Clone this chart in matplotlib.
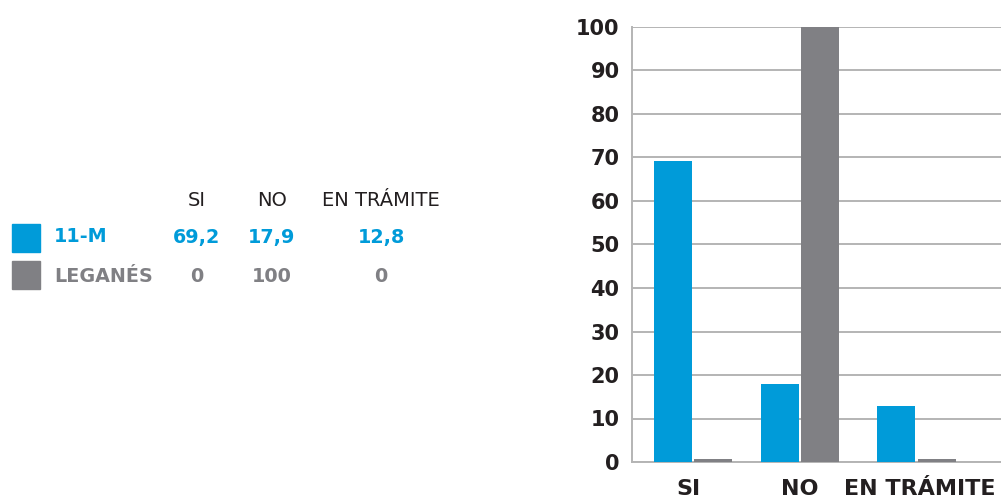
import numpy as np
import matplotlib
matplotlib.use("Agg")
import matplotlib.pyplot as plt
from matplotlib.patches import Rectangle

categories = ["SI", "NO", "EN TRÁMITE"]
series_names = ["11-M", "LEGANÉS"]
values_11m = [69.2, 17.9, 12.8]
values_leganes = [0, 100, 0]
yticks = [0, 10, 20, 30, 40, 50, 60, 70, 80, 90, 100]

BLUE = "#009bd9"
GRAY = "#808084"
GRID = "#b4b4b4"
TXT = "#231f20"

W, H = 1001, 500
fig = plt.figure(figsize=(W / 100, H / 100), dpi=100)
plt.rcParams['font.family'] = ['DejaVu Sans']

def fx(px):
    return px / W

def fy(py):
    return 1 - py / H

ax = fig.add_axes([fx(632), fy(462), fx(1001) - fx(632), fy(27) - fy(462)])

pos = np.array([0.0, 1.0, 2.09])
bw = 0.355
off = 0.19
min_vis = 0.8
ax.bar(pos - off, np.maximum(values_11m, min_vis), width=bw, color=BLUE, zorder=3)
ax.bar(pos + off, np.maximum(values_leganes, min_vis), width=bw, color=GRAY, zorder=3)

ax.set_xlim(-0.570, 2.879)
ax.set_ylim(0, 100)
ax.set_yticks(yticks)
ax.set_yticklabels([str(t) for t in yticks], fontsize=15, fontweight="bold", color=TXT)
ax.yaxis.grid(True, color=GRID, linewidth=1.4, zorder=0)
ax.set_axisbelow(True)
ax.tick_params(axis="y", length=0, pad=9)
ax.tick_params(axis="x", length=0, pad=12)
ax.set_xticks([-0.047, 1.0, 2.12])
ax.set_xticklabels(categories, fontsize=16, fontweight="bold", color=TXT)
for s in ["top", "right"]:
    ax.spines[s].set_visible(False)
for s in ["left", "bottom"]:
    ax.spines[s].set_color(GRID)
    ax.spines[s].set_linewidth(1.4)

# Table on the left
col_x = [197, 272, 381]
for x, c in zip(col_x, categories):
    fig.text(fx(x), fy(200), c, ha="center", va="center", fontsize=14, color=TXT)

rows = [(series_names[0], values_11m, BLUE, 237, 224),
        (series_names[1], values_leganes, GRAY, 276, 261)]
for name, vals, col, ty, sq_top in rows:
    fig.patches.append(Rectangle((fx(12), fy(sq_top + 28)), fx(28), fy(0) - fy(28),
                                 transform=fig.transFigure, color=col, figure=fig))
    fig.text(fx(54), fy(ty), name, ha="left", va="center", fontsize=13.8,
             fontweight="bold", color=col)
    for x, v in zip(col_x, vals):
        fig.text(fx(x), fy(ty), f"{v:g}".replace(".", ","), ha="center", va="center",
                 fontsize=13.8, fontweight="bold", color=col)

fig.savefig("out.png", dpi=100)
